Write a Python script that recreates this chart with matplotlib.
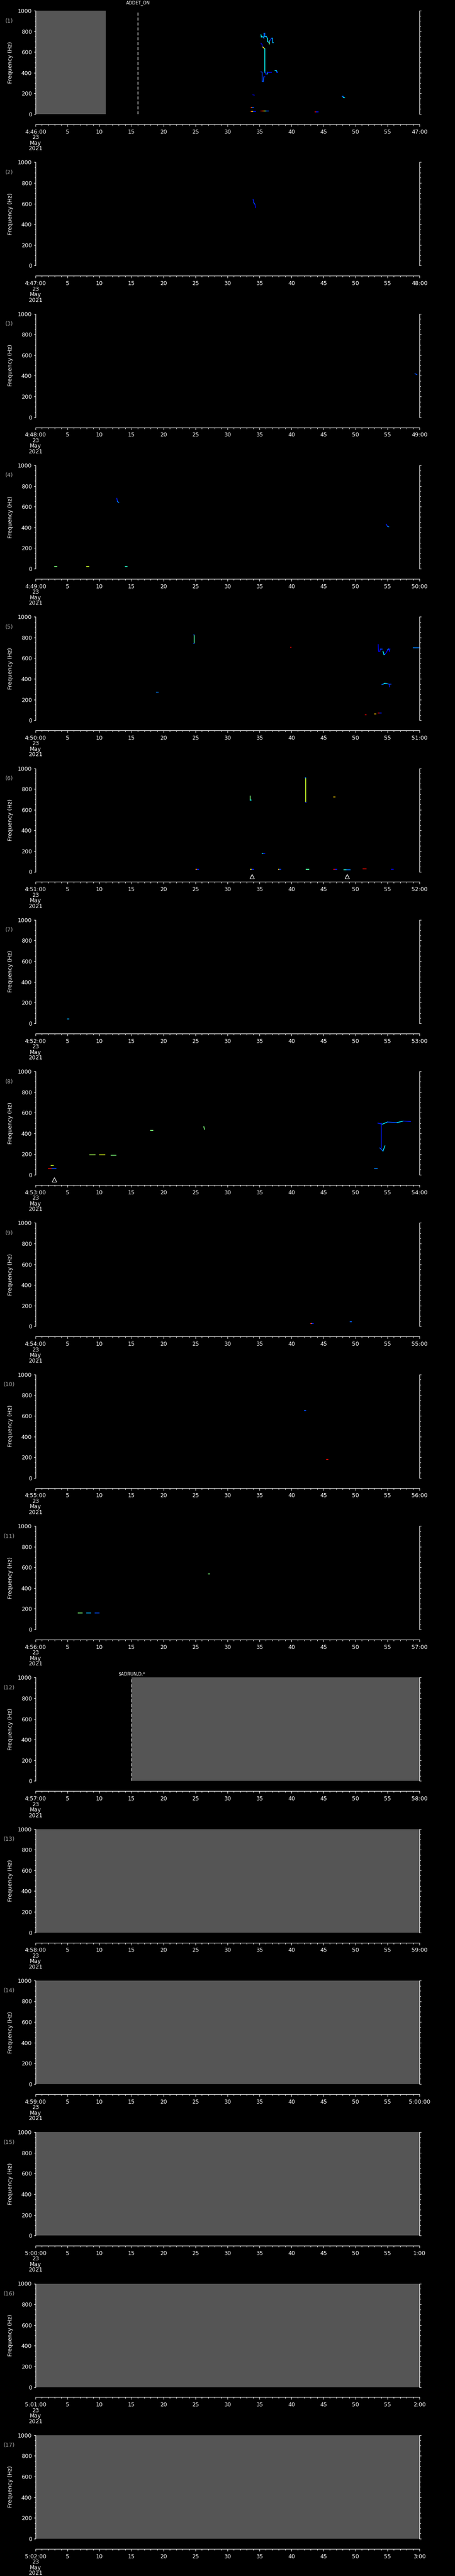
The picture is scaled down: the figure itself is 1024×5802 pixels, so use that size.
import numpy as np
import matplotlib
matplotlib.use("Agg")
import matplotlib.pyplot as plt
from matplotlib.ticker import FixedLocator, FixedFormatter, MultipleLocator
import matplotlib.transforms as mtransforms

# ---------------- data ----------------
panel_names = ["(%d)" % i for i in range(1, 18)]
start_labels = ["4:46:00", "4:47:00", "4:48:00", "4:49:00", "4:50:00", "4:51:00",
                "4:52:00", "4:53:00", "4:54:00", "4:55:00", "4:56:00", "4:57:00",
                "4:58:00", "4:59:00", "5:00:00", "5:01:00", "5:02:00"]
end_labels = ["47:00", "48:00", "49:00", "50:00", "51:00", "52:00", "53:00", "54:00",
              "55:00", "56:00", "57:00", "58:00", "59:00", "5:00:00", "1:00", "2:00", "3:00"]
date_lines = ["23", "May", "2021"]
freq_ticks = [0, 200, 400, 600, 800, 1000]

# gray (no data) intervals per panel, seconds from panel start
gray_start = [0, None, None, None, None, None, None, None, None, None, None, 15, 0, 0, 0, 0, 0]
gray_end = [11, None, None, None, None, None, None, None, None, None, None, 60, 60, 60, 60, 60, 60]

# event markers: (panel index, time, text)
event_panels = [0, 11]
event_times = [16.0, 15.0]
event_texts = ["ADDET_ON", r"\$ADRUN,D,*"]

# spectral tracks: (t0, f0, t1, f1, level 0..1 on jet scale)
p1_tracks = [
    (35.23, 767, 35.30, 745, 0.36), (35.30, 745, 35.53, 745, 0.36),
    (35.53, 745, 35.70, 734, 0.30), (35.70, 734, 35.72, 780, 0.22),
    (35.72, 780, 35.81, 780, 0.25), (35.81, 780, 35.81, 752, 0.22),
    (35.81, 752, 36.07, 752, 0.36), (36.07, 752, 36.25, 731, 0.30),
    (36.25, 731, 36.28, 700, 0.36), (36.28, 700, 36.44, 695, 0.34),
    (36.50, 710, 36.50, 676, 0.55), (36.56, 710, 36.56, 676, 0.48),
    (36.58, 705, 36.81, 728, 0.15), (36.81, 728, 36.88, 735, 0.12),
    (36.88, 735, 37.04, 735, 0.28), (37.04, 735, 37.06, 691, 0.30),
    (37.06, 691, 37.12, 691, 0.30),
    (35.23, 685, 35.40, 673, 0.08), (35.40, 673, 35.45, 648, 0.08),
    (35.53, 648, 35.77, 634, 0.66), (35.86, 631, 35.86, 405, 0.36),
    (35.23, 409, 35.42, 405, 0.18), (35.42, 405, 35.42, 319, 0.18),
    (35.42, 319, 35.60, 316, 0.22), (35.60, 316, 35.66, 359, 0.20),
    (35.66, 359, 35.81, 359, 0.15), (35.88, 409, 36.00, 388, 0.15),
    (36.00, 388, 36.20, 388, 0.12), (36.20, 388, 36.23, 405, 0.36),
    (36.23, 405, 36.88, 405, 0.12),
    (37.43, 421, 37.66, 421, 0.34), (37.66, 421, 37.74, 405, 0.30),
    (37.74, 405, 37.85, 405, 0.15),
    (33.96, 187, 34.20, 183, 0.05),
    (33.68, 63, 33.80, 63, 0.90), (33.80, 63, 33.92, 63, 0.68), (33.92, 63, 34.08, 63, 0.20),
    (33.68, 26, 33.85, 26, 0.85), (33.85, 26, 34.00, 26, 0.65), (34.00, 26, 34.38, 26, 0.15),
    (35.23, 30, 35.45, 30, 0.95), (35.45, 30, 35.70, 30, 0.85), (35.70, 30, 35.90, 30, 0.65),
    (35.90, 30, 36.10, 30, 0.45), (36.10, 30, 36.39, 30, 0.20),
    (43.68, 23, 43.90, 23, 0.90), (43.90, 23, 44.17, 23, 0.15),
    (47.90, 172, 48.05, 172, 0.20), (48.05, 172, 48.10, 160, 0.25), (48.10, 160, 48.30, 158, 0.35),
]
p2_tracks = [
    (34.0, 640, 34.1, 610, 0.15), (34.1, 610, 34.3, 590, 0.20), (34.3, 590, 34.4, 560, 0.10),
]
p3_tracks = [
    (59.3, 420, 59.6, 412, 0.20),
]
p4_tracks = [
    (12.7, 680, 12.8, 650, 0.15), (12.8, 650, 13.0, 640, 0.25),
    (54.8, 430, 55.0, 410, 0.15), (55.0, 410, 55.2, 405, 0.25),
    (3.0, 20, 3.3, 20, 0.50), (8.0, 22, 8.3, 22, 0.60), (14.0, 20, 14.3, 20, 0.40),
]
p5_tracks = [
    (24.78, 824, 24.78, 745, 0.45), (24.74, 824, 24.82, 824, 0.20), (24.74, 745, 24.82, 745, 0.20),
    (18.88, 273, 19.15, 273, 0.25),
    (39.85, 705, 39.95, 705, 0.92),
    (53.56, 731, 53.60, 667, 0.10), (53.60, 667, 53.80, 667, 0.12),
    (53.80, 667, 53.92, 688, 0.12), (53.92, 688, 54.20, 688, 0.18),
    (54.30, 667, 54.45, 638, 0.35), (54.45, 638, 54.60, 638, 0.36),
    (54.60, 638, 54.80, 653, 0.12), (54.80, 653, 55.05, 681, 0.12),
    (55.05, 681, 55.20, 690, 0.35), (55.20, 690, 55.30, 667, 0.12), (55.30, 667, 55.38, 688, 0.12),
    (59.04, 702, 59.95, 702, 0.25),
    (54.14, 345, 54.33, 349, 0.22), (54.33, 349, 54.53, 356, 0.30),
    (54.53, 356, 54.80, 356, 0.36), (54.80, 356, 55.03, 352, 0.30),
    (55.03, 352, 55.22, 349, 0.22), (55.30, 349, 55.34, 323, 0.15), (55.38, 349, 55.57, 349, 0.18),
    (51.50, 54, 51.70, 54, 0.92), (53.00, 63, 53.20, 63, 0.70), (53.56, 69, 53.80, 69, 0.92),
    (53.80, 69, 54.03, 69, 0.15),
]
p6_tracks = [
    (33.53, 730, 33.53, 695, 0.50), (33.53, 695, 33.70, 695, 0.36),
    (42.20, 906, 42.20, 673, 0.60), (42.12, 906, 42.25, 906, 0.25), (42.20, 673, 42.30, 673, 0.15),
    (46.62, 723, 46.80, 723, 0.68),
    (35.45, 177, 35.64, 177, 0.36), (35.64, 177, 35.84, 177, 0.15),
    (25.10, 22, 25.25, 22, 0.75), (25.25, 22, 25.50, 22, 0.15),
    (33.60, 22, 33.80, 22, 0.65), (33.80, 22, 34.10, 22, 0.15),
    (37.96, 22, 38.10, 22, 0.68), (38.10, 22, 38.34, 22, 0.18),
    (42.30, 22, 42.70, 22, 0.45),
    (46.60, 22, 46.85, 22, 0.92), (46.85, 22, 47.10, 22, 0.15),
    (48.20, 18, 48.60, 18, 0.40), (48.60, 18, 49.20, 18, 0.25),
    (51.20, 26, 51.70, 26, 0.90),
    (55.60, 24, 55.90, 24, 0.10),
]
p7_tracks = [
    (5.0, 40, 5.2, 40, 0.30),
]
p8_tracks = [
    (2.0, 60, 2.6, 60, 0.90), (2.6, 60, 3.2, 60, 0.20), (2.4, 90, 2.8, 90, 0.60),
    (8.5, 193, 9.3, 193, 0.55), (10.0, 193, 10.8, 193, 0.62), (11.8, 190, 12.6, 190, 0.50),
    (18.0, 430, 18.3, 430, 0.50), (26.3, 465, 26.4, 440, 0.50),
    (53.5, 500, 54.2, 490, 0.15), (54.2, 490, 55.0, 510, 0.34), (55.0, 510, 56.5, 505, 0.20),
    (56.5, 505, 57.5, 520, 0.34), (57.5, 520, 58.6, 515, 0.15),
    (53.8, 260, 54.3, 230, 0.20), (54.3, 230, 54.6, 280, 0.34), (54.0, 500, 54.0, 260, 0.15),
    (53.0, 60, 53.4, 60, 0.25),
]
p9_tracks = [
    (42.97, 28, 43.10, 28, 0.90), (43.10, 28, 43.20, 28, 0.68), (43.20, 28, 43.40, 28, 0.15),
    (49.20, 43, 49.40, 43, 0.22),
]
p10_tracks = [
    (42.0, 650, 42.2, 650, 0.20), (45.5, 180, 45.7, 180, 0.90),
]
p11_tracks = [
    (6.7, 159, 7.3, 159, 0.50), (8.0, 159, 8.6, 159, 0.30), (9.3, 159, 9.9, 159, 0.20),
    (27.0, 538, 27.2, 538, 0.50),
]
empty_tracks = []
all_tracks = [p1_tracks, p2_tracks, p3_tracks, p4_tracks, p5_tracks, p6_tracks, p7_tracks,
              p8_tracks, p9_tracks, p10_tracks, p11_tracks, empty_tracks, empty_tracks,
              empty_tracks, empty_tracks, empty_tracks, empty_tracks]

# small white wedge markers below the frequency axis: (panel index, time)
wedge_panels = [5, 5, 7]
wedge_times = [33.8, 48.7, 2.9]

# ---------------- drawing ----------------
W, H = 1024, 5802
fig = plt.figure(figsize=(W / 100, H / 100), dpi=100, facecolor="black")
cmap = plt.get_cmap("jet")
plt.rcParams["font.family"] = ["DejaVu Sans"]

LEFT, RIGHT = 80, 944
TOP0, PITCH, PH = 24.0, 341.3, 233.0
FS = 9

for i in range(17):
    top = TOP0 + i * PITCH
    ax = fig.add_axes([LEFT / W, 1 - (top + PH) / H, (RIGHT - LEFT) / W, PH / H])
    ax.set_facecolor("black")
    ax.set_xlim(0, 60)
    ax.set_ylim(0, 1000)

    # spines
    ax.spines["top"].set_visible(False)
    for s in ["left", "right", "bottom"]:
        ax.spines[s].set_color("white")
        ax.spines[s].set_linewidth(0.9)
    ax.spines["bottom"].set_position(("outward", 16.5))

    # y ticks
    ax.yaxis.set_major_locator(FixedLocator(freq_ticks))
    ax.yaxis.set_minor_locator(MultipleLocator(50))
    ax.tick_params(axis="y", which="both", left=True, right=True, labelleft=True,
                   labelright=False, direction="out", colors="white", labelsize=FS, pad=3,
                   width=0.75)
    ax.tick_params(axis="y", which="major", length=3.0)
    ax.tick_params(axis="y", which="minor", length=1.8)

    # x ticks
    xt = list(range(0, 61, 5))
    xl = [start_labels[i] + "\n" + "\n".join(date_lines)] + [str(v) for v in xt[1:-1]] + [end_labels[i]]
    ax.xaxis.set_major_locator(FixedLocator(xt))
    ax.xaxis.set_major_formatter(FixedFormatter(xl))
    ax.xaxis.set_minor_locator(MultipleLocator(1))
    ax.tick_params(axis="x", which="both", direction="out", colors="white",
                   labelsize=FS, pad=4, width=0.75)
    ax.tick_params(axis="x", which="major", length=3.8)
    ax.tick_params(axis="x", which="minor", length=1.8)
    for lab in ax.get_xticklabels():
        lab.set_linespacing(0.95)

    # labels
    ax.text((23.5 - LEFT) / (RIGHT - LEFT), 0.5, "Frequency (Hz)", transform=ax.transAxes,
            rotation=90, ha="center", va="center", color="white", fontsize=FS)
    ax.text((21 - LEFT) / (RIGHT - LEFT), 1 - 23 / PH, panel_names[i], transform=ax.transAxes,
            ha="center", va="center", color="#a8a8a8", fontsize=FS)

    # no-data region
    if gray_start[i] is not None:
        ax.axvspan(gray_start[i], gray_end[i], color="#555555", lw=0, zorder=1)

    # spectral tracks
    for (t0, f0, t1, f1, c) in all_tracks[i]:
        ax.plot([t0, t1], [f0, f1], color=cmap(c), lw=1.3, solid_capstyle="projecting", zorder=3)

    # wedges below axis
    for wp, wt in zip(wedge_panels, wedge_times):
        if wp == i:
            ax.plot([wt], [-45], marker="^", mfc="none", mec="white", ms=7, mew=0.9,
                    ls="none", clip_on=False, zorder=4)

    # event markers
    for ep, et, etx in zip(event_panels, event_times, event_texts):
        if ep == i:
            ax.axvline(et, color="white", lw=1.0, dashes=(5, 3), zorder=4)
            trans = mtransforms.blended_transform_factory(ax.transData, ax.transAxes)
            yoff = 1 + (17.7 / PH if i == 0 else 7.8 / PH)
            ax.text(et, yoff, etx, transform=trans, ha="center", va="center",
                    color="white", fontsize=7)

fig.savefig("out.png", dpi=100, facecolor="black")
